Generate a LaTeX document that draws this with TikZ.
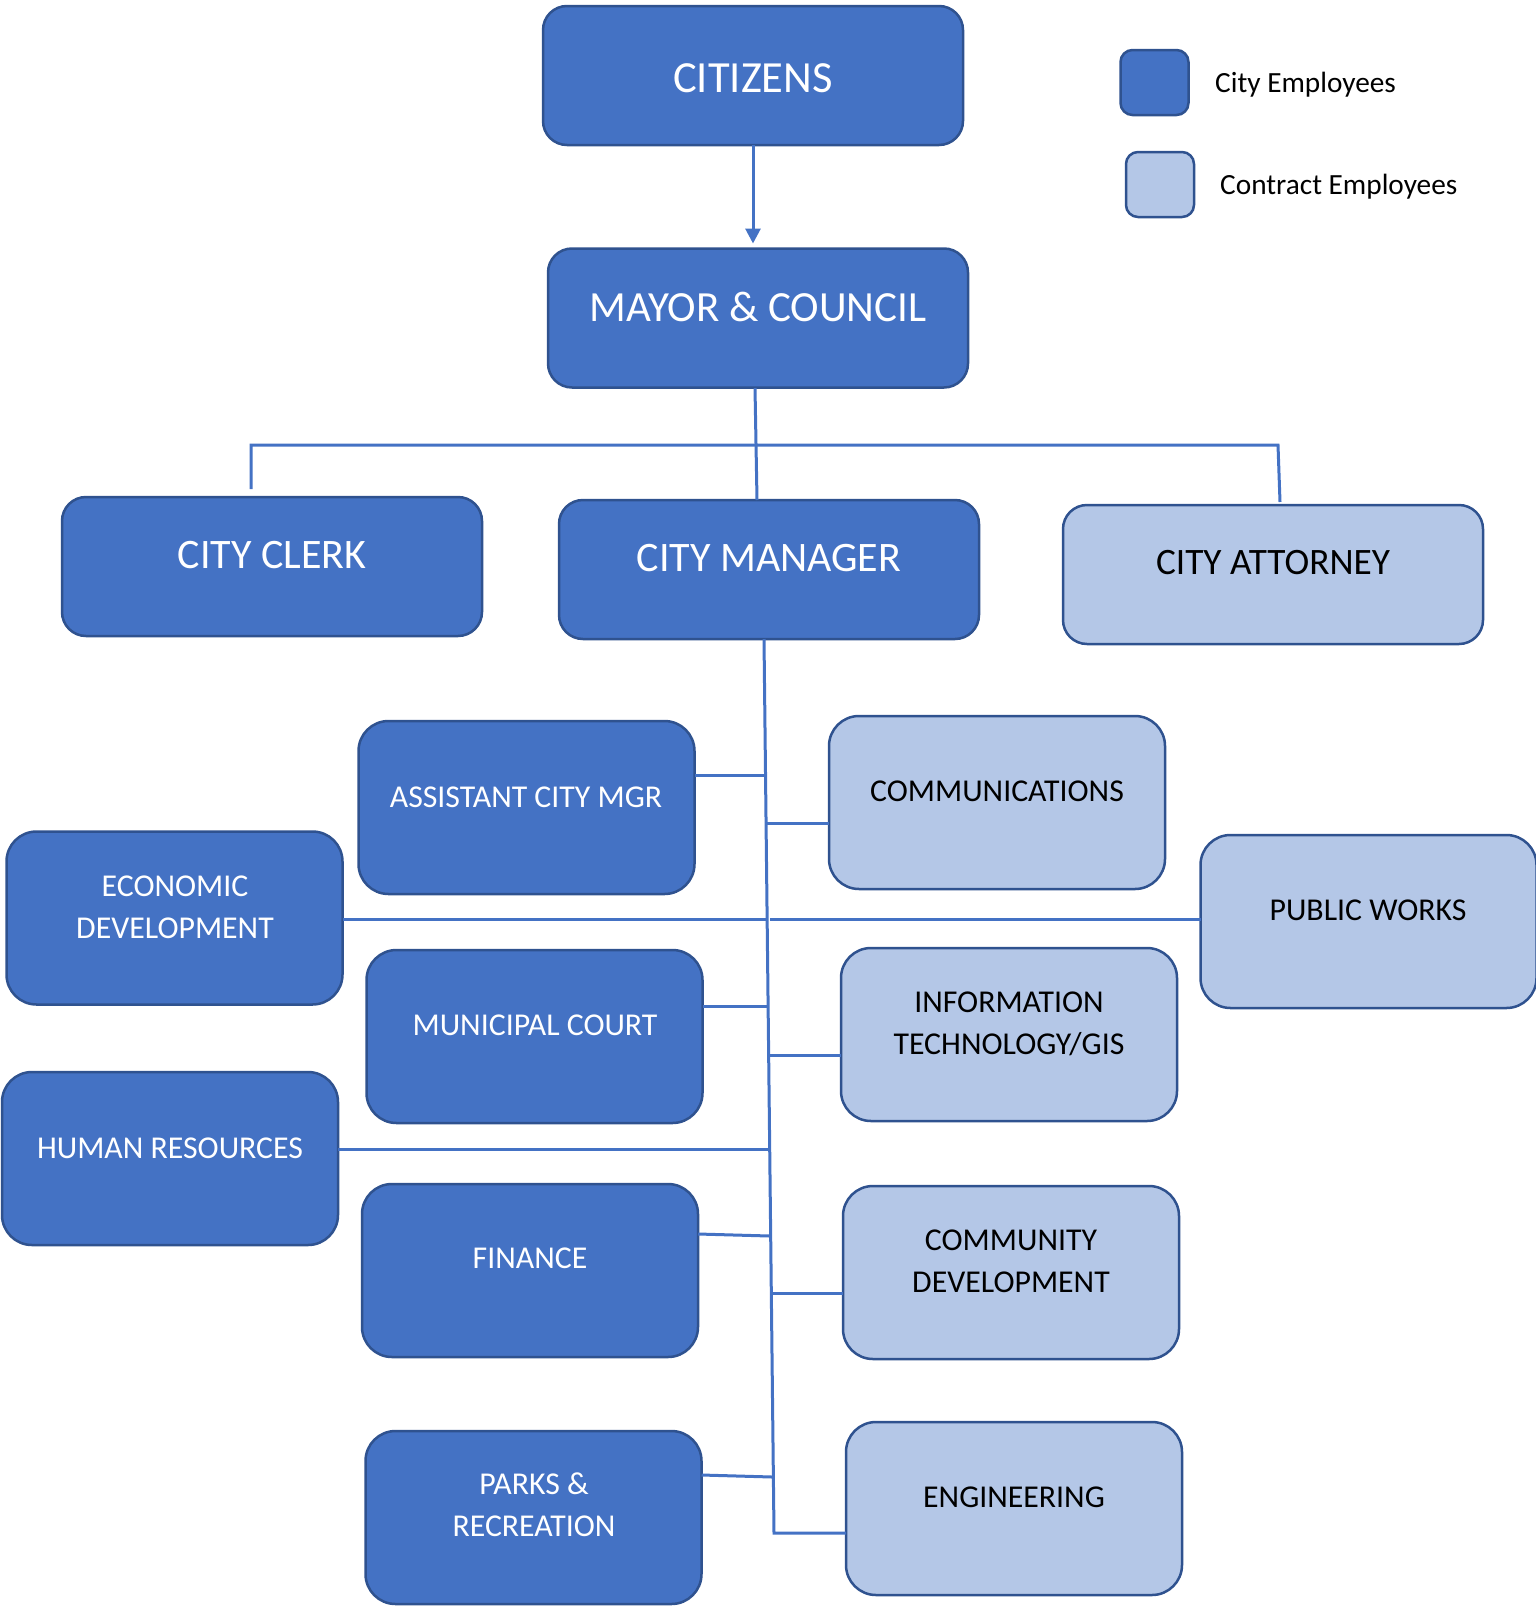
\documentclass[tikz,border=0pt]{standalone}
\usepackage{fontspec}
\setmainfont{Carlito}
\usetikzlibrary{arrows.meta,calc}
\definecolor{cblue}{HTML}{4472C4}
\definecolor{cedge}{HTML}{2F528F}
\definecolor{clight}{HTML}{B4C7E7}
\begin{document}
\begin{tikzpicture}[x=1pt,y=-1pt,
  boxbase/.style={draw=cedge,line width=2.5pt,inner sep=0pt,outer sep=0pt},
  bigbox/.style={boxbase,rounded corners=24pt,minimum width=420pt,minimum height=139pt},
  deptbox/.style={boxbase,rounded corners=30pt,minimum width=336pt,minimum height=173pt},
  legbox/.style={boxbase,rounded corners=12pt,minimum width=68pt,minimum height=65pt},
  cityfill/.style={fill=cblue},
  contractfill/.style={fill=clight},
  bigtxt/.style={font=\fontsize{42}{50}\selectfont,inner sep=0pt},
  depttxt/.style={font=\fontsize{31.8}{42}\selectfont,inner sep=0pt,align=center},
  whitetxt/.style={text=white},
  blacktxt/.style={text=black},
  legtxt/.style={font=\fontsize{29.3}{34}\selectfont,inner sep=0pt,anchor=base west},
  conn/.style={draw=cblue,line width=3pt},
  arr/.style={conn,-{Triangle[length=15pt,width=15pt]}}
]
\useasboundingbox (0,0) rectangle (1535,1606);

% top boxes
\node[bigbox,cityfill] (citizens) at (753,75.5) {};
\node[bigtxt,whitetxt,font=\fontsize{44.5}{50}\selectfont] (citizens-t) at (753,78) {CITIZENS};
\node[bigbox,cityfill] (mayor) at (758,318) {};
\node[bigtxt,whitetxt,font=\fontsize{43}{50}\selectfont] (mayor-t) at (758,307) {MAYOR \& COUNCIL};
\node[bigbox,cityfill] (clerk) at (272,566.5) {};
\node[bigtxt,whitetxt] (clerk-t) at (272,555) {CITY CLERK};
\node[bigbox,cityfill] (mgr) at (769,569.5) {};
\node[bigtxt,whitetxt] (mgr-t) at (769,558) {CITY MANAGER};
\node[bigbox,contractfill] (atty) at (1273,574.5) {};
\node[bigtxt,blacktxt,font=\fontsize{37.3}{44}\selectfont] (atty-t) at (1273,563) {CITY ATTORNEY};

% legend
\node[legbox,cityfill] (leg1) at (1154.5,82.5) {};
\node[legtxt] (leg1-t) at (1215,92) {City Employees};
\node[legbox,contractfill] (leg2) at (1160,184.5) {};
\node[legtxt] (leg2-t) at (1220,194) {Contract Employees};

% departments
\node[deptbox,cityfill] (asst) at (526.5,807.5) {};
\node[depttxt,whitetxt] (asst-t) at (526,797) {ASSISTANT CITY MGR};
\node[deptbox,contractfill] (comm) at (997,802.5) {};
\node[depttxt,blacktxt] (comm-t) at (997,791) {COMMUNICATIONS};
\node[deptbox,cityfill] (econ) at (174.5,918) {};
\node[depttxt,whitetxt] (econ-t) at (175,907) {ECONOMIC\\DEVELOPMENT};
\node[deptbox,contractfill] (pw) at (1368.5,921.5) {};
\node[depttxt,blacktxt] (pw-t) at (1368,910) {PUBLIC WORKS};
\node[deptbox,cityfill] (court) at (534.5,1036.5) {};
\node[depttxt,whitetxt] (court-t) at (535,1025) {MUNICIPAL COURT};
\node[deptbox,contractfill] (it) at (1009,1034.5) {};
\node[depttxt,blacktxt] (it-t) at (1009,1023.5) {INFORMATION\\TECHNOLOGY/GIS};
\node[deptbox,cityfill] (hr) at (170,1158.5) {};
\node[depttxt,whitetxt] (hr-t) at (170,1148) {HUMAN RESOURCES};
\node[deptbox,cityfill] (fin) at (530,1270.5) {};
\node[depttxt,whitetxt] (fin-t) at (530,1258) {FINANCE};
\node[deptbox,contractfill] (cd) at (1011,1272.5) {};
\node[depttxt,blacktxt] (cd-t) at (1011,1261) {COMMUNITY\\DEVELOPMENT};
\node[deptbox,cityfill] (parks) at (533.5,1517.5) {};
\node[depttxt,whitetxt] (parks-t) at (534,1505) {PARKS \&\\RECREATION};
\node[deptbox,contractfill] (eng) at (1014,1508.5) {};
\node[depttxt,blacktxt] (eng-t) at (1014,1497) {ENGINEERING};

% connector points
\coordinate (mayorbot) at (755,388);
\coordinate (barleft) at (251,445);
\coordinate (barright) at (1278,445);
\coordinate (clerktop) at (251,489);
\coordinate (attytop) at (1280,502);
\coordinate (mgrtop) at (757,500);
\coordinate (trunktop) at (764,639);
\coordinate (trunkbot) at (774,1533);
\coordinate (tAsst) at (765.5,775);
\coordinate (tComm) at (766,823);
\coordinate (tEconL) at (767,919);
\coordinate (tPwR) at (770,919);
\coordinate (tCourt) at (768,1006);
\coordinate (tIt) at (769,1055);
\coordinate (tHr) at (769,1149);
\coordinate (tFin) at (769.5,1236);
\coordinate (tCd) at (770.5,1293);
\coordinate (tParks) at (772,1477);

% connectors
\draw[arr] (citizens.south) -- ($(mayor.north)+(-5,-5)$);
\draw[conn] (mayorbot) -- (mgrtop);
\draw[conn] (clerktop) -- (barleft) -- (barright) -- (attytop);
\draw[conn] (trunktop) -- (trunkbot) -- (trunkbot -| eng.west);
\draw[conn] (asst.east |- tAsst) -- (tAsst);
\draw[conn] (tComm) -- (comm.west |- tComm);
\draw[conn] (econ.east |- tEconL) -- (tEconL);
\draw[conn] (tPwR) -- (pw.west |- tPwR);
\draw[conn] (court.east |- tCourt) -- (tCourt);
\draw[conn] (tIt) -- (it.west |- tIt);
\draw[conn] (hr.east |- tHr) -- (tHr);
\draw[conn] ($(fin.east |- tFin)+(0,-2)$) -- (tFin);
\draw[conn] (tCd) -- (cd.west |- tCd);
\draw[conn] ($(parks.east |- tParks)+(0,-2)$) -- (tParks);
\end{tikzpicture}
\end{document}
